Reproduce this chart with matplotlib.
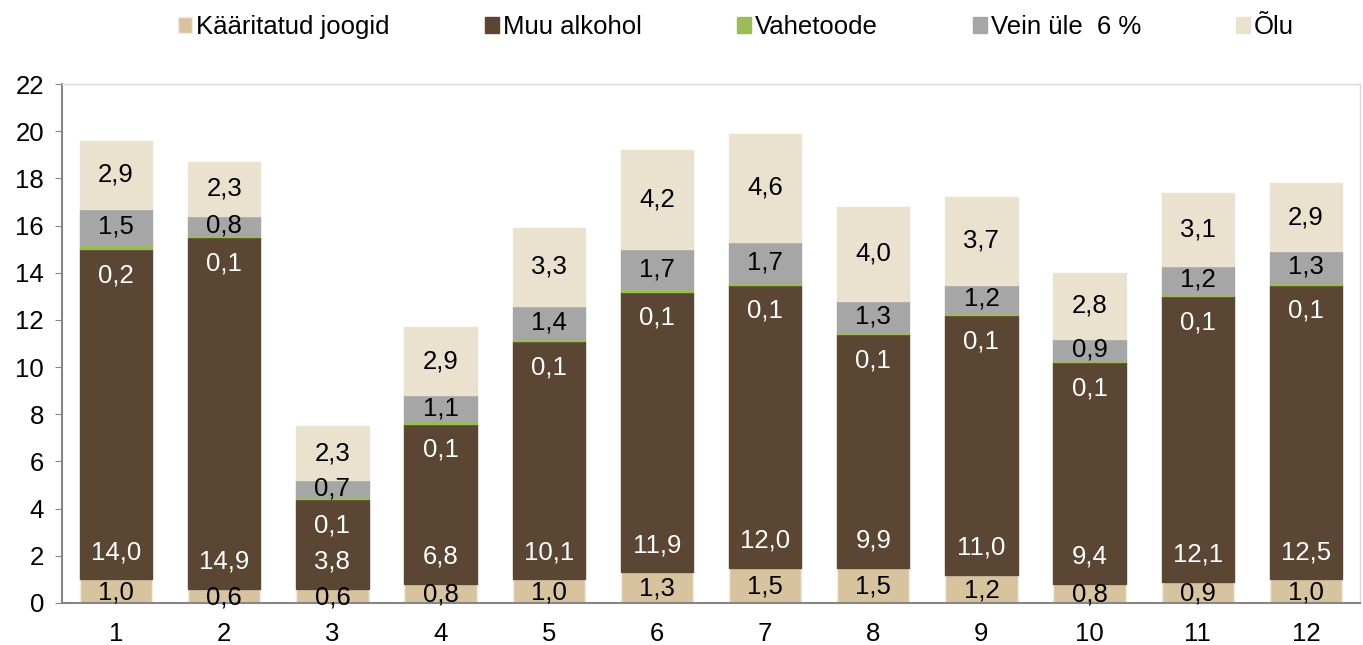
import matplotlib
matplotlib.use("Agg")
import matplotlib.pyplot as plt
import numpy as np

plt.rcParams['font.family'] = ['Liberation Sans', 'DejaVu Sans']

categories = ["1", "2", "3", "4", "5", "6", "7", "8", "9", "10", "11", "12"]
kaaritatud = [1.0, 0.6, 0.6, 0.8, 1.0, 1.3, 1.5, 1.5, 1.2, 0.8, 0.9, 1.0]
muu_alkohol = [14.0, 14.9, 3.8, 6.8, 10.1, 11.9, 12.0, 9.9, 11.0, 9.4, 12.1, 12.5]
vahetoode = [0.2, 0.1, 0.1, 0.1, 0.1, 0.1, 0.1, 0.1, 0.1, 0.1, 0.1, 0.1]
vein = [1.5, 0.8, 0.7, 1.1, 1.4, 1.7, 1.7, 1.3, 1.2, 0.9, 1.2, 1.3]
olu = [2.9, 2.3, 2.3, 2.9, 3.3, 4.2, 4.6, 4.0, 3.7, 2.8, 3.1, 2.9]

series_names = ["Kääritatud joogid", "Muu alkohol", "Vahetoode", "Vein üle  6 %", "Õlu"]
colors = ["#D8C39F", "#5B4533", "#9BBB59", "#A6A6A6", "#EAE1CF"]
edgecolors = ["#F2EDE2", "#5B4533", "#9BBB59", "#A6A6A6", "#EAE1CF"]
text_colors = ["black", "white", "white", "black", "black"]

fig = plt.figure(figsize=(13.63, 6.45), dpi=100)
ax = fig.add_axes([62/1363, 1 - 603/645, (1360-62)/1363, (603-84)/645])

x = np.arange(len(categories))
width = 0.67
data = [kaaritatud, muu_alkohol, vahetoode, vein, olu]
bottom = np.zeros(len(categories))
handles = []
fs = 18.5
for i, (vals, name) in enumerate(zip(data, series_names)):
    vals = np.array(vals)
    h = ax.bar(x, vals, width, bottom=bottom, color=colors[i], edgecolor=edgecolors[i],
               linewidth=1.0, label=name, zorder=2)
    handles.append(h)
    for j in range(len(x)):
        if i == 0:
            ypos = bottom[j] + vals[j] / 2 - 0.05
        elif i == 1:
            ypos = bottom[j] + 1.15
        elif i == 2:
            ypos = bottom[j] - 1.1
        else:
            ypos = bottom[j] + vals[j] / 2
        ax.text(x[j], ypos, f"{vals[j]:.1f}".replace(".", ","), ha="center", va="center",
                color=text_colors[i], fontsize=fs, zorder=3)
    bottom = bottom + vals

ax.set_xlim(-0.5, len(categories) - 0.5)
ax.set_ylim(0, 22)
ax.set_yticks(np.arange(0, 23, 2))
ax.set_xticks(x)
ax.set_xticklabels(categories)
ax.tick_params(axis="y", labelsize=fs, length=5, color="#868686", direction="out", pad=8)
ax.tick_params(axis="x", labelsize=fs, length=0, pad=14)
for s in ["left", "bottom"]:
    ax.spines[s].set_color("#868686")
    ax.spines[s].set_linewidth(1.5)
for s in ["top", "right"]:
    ax.spines[s].set_color("#D9D9D9")
    ax.spines[s].set_linewidth(1.0)

leg = fig.legend(handles=handles, labels=series_names, loc="center", ncol=5,
                 bbox_to_anchor=(0.540, 1 - 27/645), frameon=False, fontsize=fs,
                 handlelength=0.55, handleheight=0.55, handletextpad=0.15, columnspacing=3.7)

fig.savefig("out.png", dpi=100)
